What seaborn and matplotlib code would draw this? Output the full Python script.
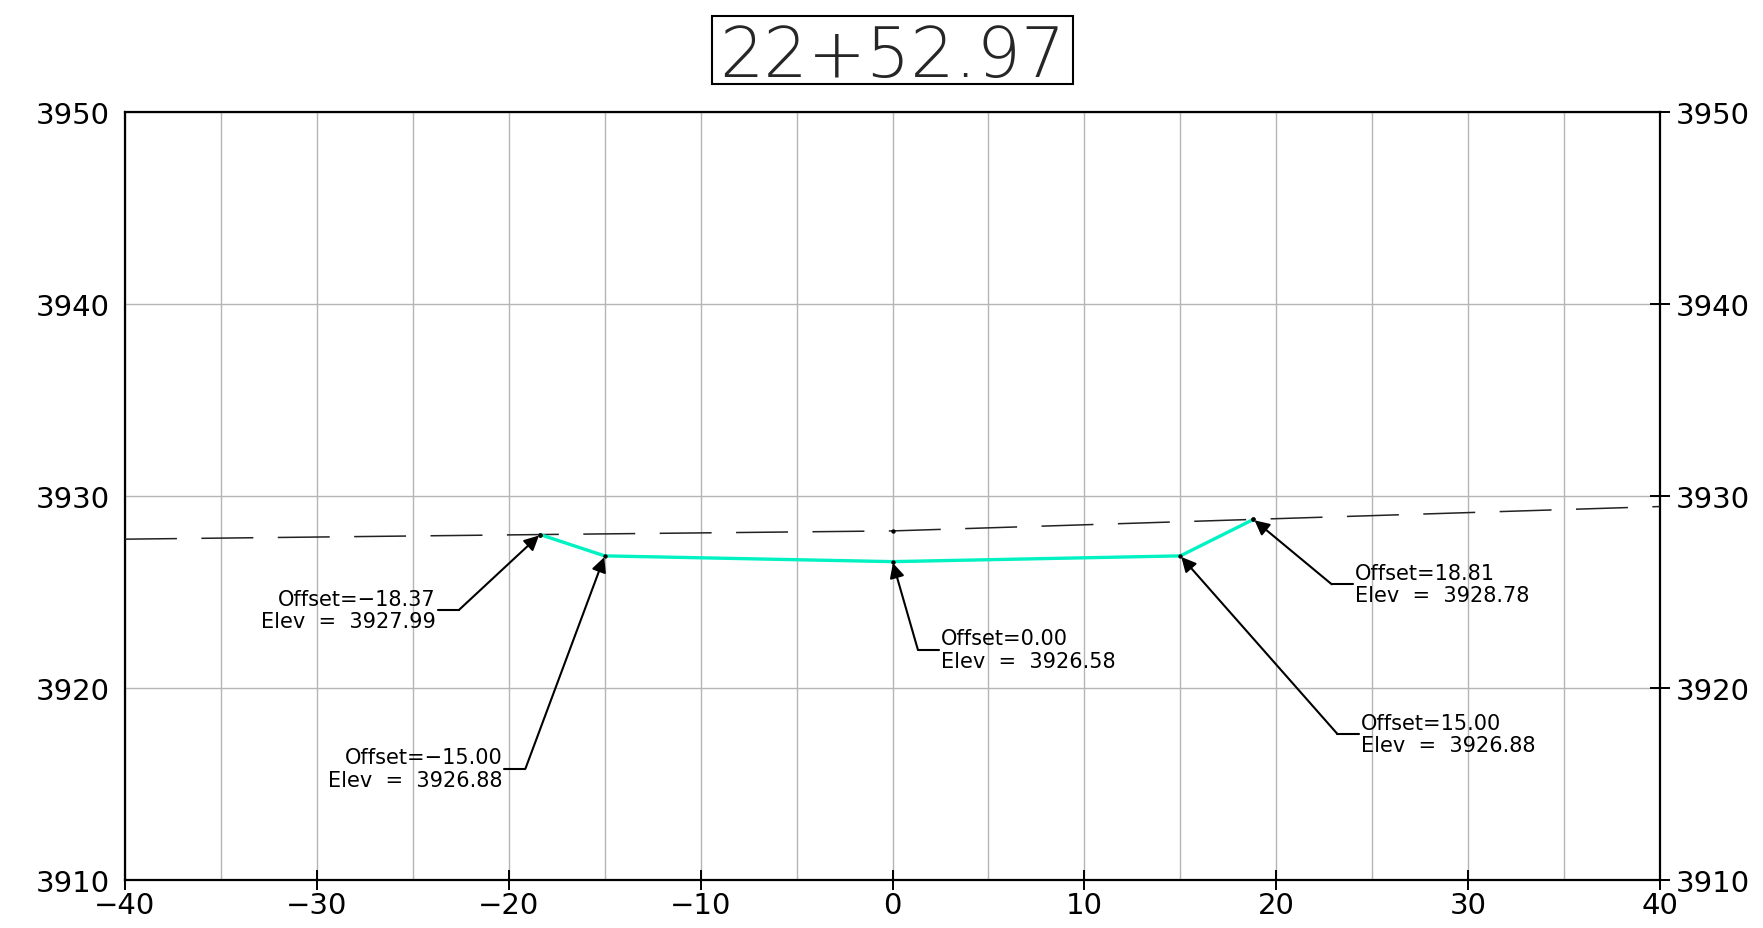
import matplotlib.pyplot as plt
import matplotlib.ticker as mticker
from matplotlib.patches import Rectangle
import pandas as pd
import seaborn as sns

station = "22+52.97"

# proposed section points
offsets = [-18.37, -15.00, 0.00, 15.00, 18.81]
elevs = [3927.99, 3926.88, 3926.58, 3926.88, 3928.78]

# existing ground (dashed line)
ground_offsets = [-40.0, -18.37, 0.0, 18.81, 40.0]
ground_elevs = [3927.75, 3927.99, 3928.18, 3928.78, 3929.45]

x_ticks = [-40, -30, -20, -10, 0, 10, 20, 30, 40]
y_ticks = [3910, 3920, 3930, 3940, 3950]

# where each leader bends, and which side the label sits on
label_knees = [(-22.6, 3924.06), (-19.13, 3915.8), (1.32, 3922.0), (23.19, 3917.6), (22.89, 3925.4)]
label_sides = ["left", "left", "right", "right", "right"]

sns.set_theme(style="white")
plt.rcParams["font.family"] = ["DejaVu Sans"]

section = pd.DataFrame({"offset": offsets, "elev": elevs})
ground = pd.DataFrame({"offset": ground_offsets, "elev": ground_elevs})

fig = plt.figure(figsize=(17.63, 9.29), dpi=100)
ax = fig.add_axes([0.0709, 0.0517, 0.8707, 0.8267])

sns.lineplot(data=ground, x="offset", y="elev", ax=ax, color="#222222", lw=1.1,
             dashes=False, sort=False, zorder=3)
ax.lines[-1].set_dashes((34, 16))
sns.lineplot(data=section, x="offset", y="elev", ax=ax, color="#00F2C3", lw=2.4,
             sort=False, zorder=4)
sns.scatterplot(data=ground.iloc[1:-1], x="offset", y="elev", ax=ax, color="black",
                s=10, linewidth=0, zorder=5)
sns.scatterplot(data=section, x="offset", y="elev", ax=ax, color="black",
                s=10, linewidth=0, zorder=5)

# leaders and labels
for x, y, (kx, ky), side in zip(offsets, elevs, label_knees, label_sides):
    ax.annotate("", xy=(x, y), xytext=(kx, ky),
                arrowprops=dict(arrowstyle="-|>", color="black", lw=1.5,
                                shrinkA=0, shrinkB=1, mutation_scale=22),
                zorder=6)
    sign = -1 if side == "left" else 1
    ax.plot([kx, kx + sign * 1.1], [ky, ky], color="black", lw=1.5, zorder=6)
    text = f"Offset={x:.2f}\nElev  =  {y:.2f}".replace("-", "\u2212")
    ax.text(kx + sign * 1.2, ky, text, ha="right" if side == "left" else "left",
            va="center", multialignment="right" if side == "left" else "left",
            fontsize=15, color="black", linespacing=1.15, zorder=6)

ax.set_xlim(-40, 40)
ax.set_ylim(3910, 3950)
ax.set_xticks(x_ticks)
ax.set_yticks(y_ticks)
ax.xaxis.set_minor_locator(mticker.MultipleLocator(5))
ax.grid(True, which="major", color="#b5b5b5", lw=1.0)
ax.grid(True, which="minor", axis="x", color="#b5b5b5", lw=1.0)
ax.set_xlabel("")
ax.set_ylabel("")

for side, spine in ax.spines.items():
    spine.set_color("black")
    spine.set_linewidth(1.6)

ax.tick_params(axis="both", which="major", direction="inout", length=14, width=1.4,
               color="black", labelsize=21, labelcolor="black")
ax.tick_params(axis="y", right=True, labelright=True, pad=4)
ax.tick_params(axis="x", bottom=True, pad=1)
ax.tick_params(which="minor", length=0)

# station title in a box
fig.patches.append(Rectangle((0.4039, 0.9085), 0.2047, 0.0732, transform=fig.transFigure,
                             fc="white", ec="black", lw=1.5))
fig.text(0.5063, 0.9375, station, fontsize=50, ha="center", va="center",
         fontweight="light")

fig.savefig("out.png", dpi=100)
